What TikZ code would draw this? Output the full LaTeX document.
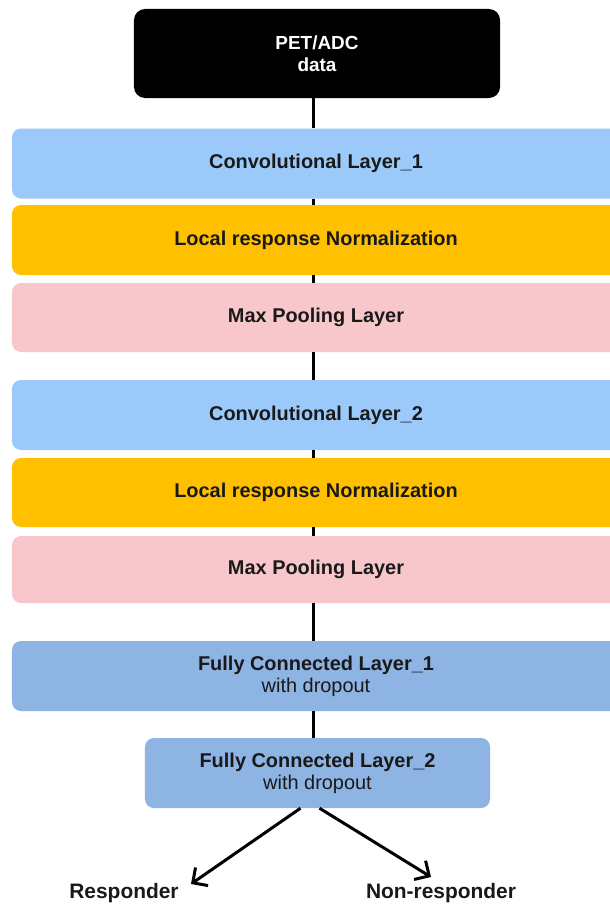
\documentclass[tikz,border=0pt]{standalone}
\usepackage{fontspec}
\setmainfont{Liberation Sans}
\usetikzlibrary{arrows.meta}

\definecolor{convblue}{RGB}{155,202,250}
\definecolor{lrnorange}{RGB}{255,192,0}
\definecolor{poolpink}{RGB}{248,199,204}
\definecolor{fcblue}{RGB}{141,180,226}

\tikzset{
  layer/.style={rectangle,rounded corners=9bp,inner sep=0pt,minimum height=70bp,
    minimum width=608bp,text=black!90,align=center,font=\fontsize{20}{22}\selectfont\bfseries},
  fclayer/.style={layer,font=\fontsize{20}{22}\selectfont},
  outlabel/.style={font=\fontsize{21}{24}\selectfont\bfseries,text=black!90},
  link/.style={line width=3bp,black}
}

\begin{document}
\begin{tikzpicture}[x=1bp,y=-1bp]
\clip (0,0) rectangle (610,906);
\fill[white] (0,0) rectangle (610,906);

% input
\node[layer,fill=black,text=white,minimum width=366bp,minimum height=89bp,rounded corners=11bp,
  font=\fontsize{19}{22}\selectfont\bfseries] (data) at (317,53.5) {PET/ADC\\data};

% first block
\node[layer,fill=convblue] (conv1) at (316,163.5) {Convolutional Layer\_1};
\node[layer,fill=lrnorange] (lrn1) at (316,240) {Local response Normalization};
\node[layer,fill=poolpink,minimum height=69bp] (pool1) at (316,317.5) {Max Pooling Layer};

% second block
\node[layer,fill=convblue] (conv2) at (316,415) {Convolutional Layer\_2};
\node[layer,fill=lrnorange,minimum height=69bp] (lrn2) at (316,492.5) {Local response Normalization};
\node[layer,fill=poolpink,minimum height=67bp] (pool2) at (316,569.5) {Max Pooling Layer};

% dense part
\node[fclayer,fill=fcblue] (fc1) at (316,676) {\textbf{Fully Connected Layer\_1}\\with dropout};
\node[fclayer,fill=fcblue,minimum width=345bp] (fc2) at (317.5,773) {\textbf{Fully Connected Layer\_2}\\with dropout};

% outputs
\node[outlabel] (resp) at (124,893) {Responder};
\node[outlabel] (nonresp) at (441,893) {Non-responder};

\coordinate (spine) at (313,0);
\foreach \a/\b in {data/conv1,conv1/lrn1,lrn1/pool1,pool1/conv2,conv2/lrn2,lrn2/pool2,pool2/fc1,fc1/fc2}
  \draw[link] (\a.south -| spine) -- (\b.north -| spine);

\coordinate (resptip) at (191,884);
\coordinate (nonresptip) at (431,877);
\draw[link,-{Straight Barb[length=11bp,width=22bp]}] ([xshift=-17bp]fc2.south) -- (resptip);
\draw[link,-{Straight Barb[length=11bp,width=22bp]}] ([xshift=2bp]fc2.south) -- (nonresptip);

\end{tikzpicture}
\end{document}
